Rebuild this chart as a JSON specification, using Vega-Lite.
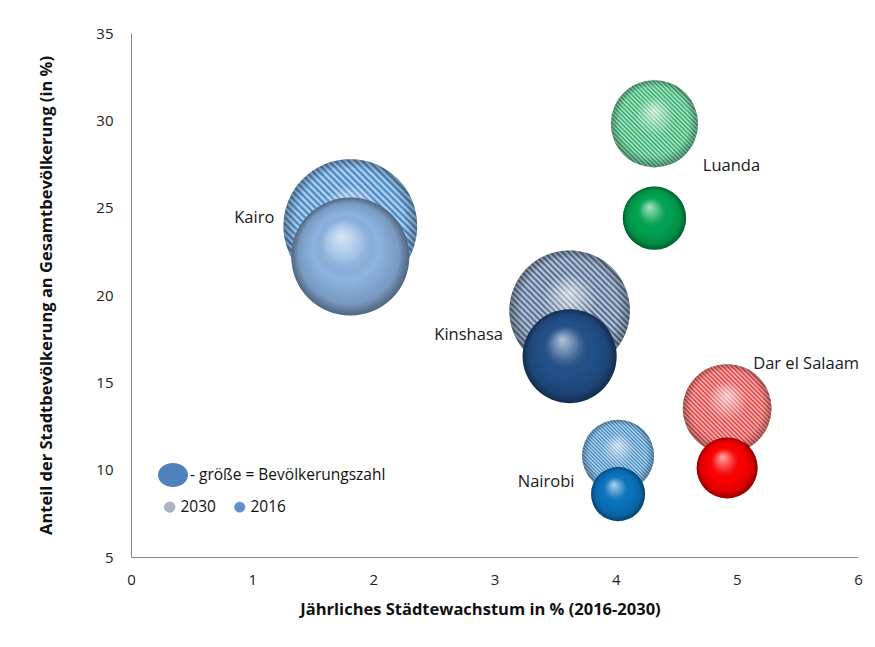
{
  "$schema": "https://vega.github.io/schema/vega-lite/v6.json",
  "width": 727,
  "height": 524,
  "autosize": {"type": "none"},
  "padding": {"left": 131, "top": 33, "right": 17, "bottom": 90},
  "background": "white",
  "config": {"view": {"stroke": null}, "font": "Open Sans"},
  "data": {
    "values": [
      {"city": "Kairo", "year": "2030", "growth": 1.81, "share": 23.95, "pop": 24.5},
      {"city": "Kinshasa", "year": "2030", "growth": 3.62, "share": 19.1, "pop": 19.9},
      {"city": "Luanda", "year": "2030", "growth": 4.32, "share": 29.8, "pop": 10.4},
      {"city": "Dar el Salaam", "year": "2030", "growth": 4.92, "share": 13.5, "pop": 10.8},
      {"city": "Nairobi", "year": "2030", "growth": 4.02, "share": 10.8, "pop": 7.1},
      {"city": "Kairo", "year": "2016", "growth": 1.81, "share": 22.2, "pop": 19.1},
      {"city": "Kinshasa", "year": "2016", "growth": 3.62, "share": 16.5, "pop": 12.1},
      {"city": "Luanda", "year": "2016", "growth": 4.32, "share": 24.4, "pop": 5.5},
      {"city": "Dar el Salaam", "year": "2016", "growth": 4.92, "share": 10.1, "pop": 5.1},
      {"city": "Nairobi", "year": "2016", "growth": 4.02, "share": 8.6, "pop": 4.0}
    ]
  },
  "encoding": {
    "x": {
      "field": "growth", "type": "quantitative",
      "scale": {"domain": [0, 6], "nice": false, "zero": false},
      "axis": {
        "title": "Jährliches Städtewachstum in % (2016-2030)",
        "values": [0, 1, 2, 3, 4, 5, 6], "grid": false, "ticks": false, "tickSize": 0, "labelFlush": false,
        "domainColor": "#868686", "labelFont": "Open Sans", "labelFontSize": 15, "labelColor": "#222222",
        "labelPadding": 15, "titleFont": "Open Sans", "titleFontSize": 16.5, "titleFontWeight": "bold",
        "titleColor": "#111111", "titlePadding": 14, "titleX": 349
      }
    },
    "y": {
      "field": "share", "type": "quantitative",
      "scale": {"domain": [5, 35], "nice": false, "zero": false},
      "axis": {
        "title": "Anteil der Stadtbevölkerung an Gesamtbevölkerung (in %)",
        "values": [5, 10, 15, 20, 25, 30, 35], "grid": false, "ticks": false, "tickSize": 0, "labelFlush": false,
        "domainColor": "#868686", "labelFont": "Open Sans", "labelFontSize": 15, "labelColor": "#222222",
        "labelPadding": 18, "titleFont": "Open Sans", "titleFontSize": 16.5, "titleFontWeight": "bold",
        "titleColor": "#111111", "titlePadding": 41
      }
    }
  },
  "layer": [
    {
      "transform": [{"filter": "datum.year == '2030'"}],
      "mark": {"type": "point", "filled": true, "opacity": 1, "strokeWidth": 0},
      "encoding": {
        "size": {"field": "pop", "type": "quantitative", "scale": {"domain": [0, 25], "range": [0, 18250]}, "legend": null},
        "color": {
          "field": "city", "type": "nominal",
          "scale": {"domain": ["Kairo", "Kinshasa", "Luanda", "Dar el Salaam", "Nairobi"], "range": ["#357fc6", "#45618a", "#22ab62", "#e63434", "#3584c4"]},
          "legend": null
        },
        "shape": {
          "field": "year", "type": "nominal",
          "scale": {"domain": ["2030", "2016"], "range": ["circle", "circle"]},
          "legend": {
            "orient": "none", "legendX": 31, "legendY": 466, "direction": "horizontal", "title": null,
            "symbolSize": 110, "labelFont": "Open Sans", "labelFontSize": 15.5, "labelColor": "#111111",
            "labelOffset": 3, "columnPadding": 16, "labelLimit": 300,
            "encoding": {"symbols": {
              "fill": {"value": {"expr": "datum.value == '2030' ? '#aab4c2' : '#5f8fd0'"}},
              "stroke": {"value": "#7f8fa0"}, "strokeWidth": {"value": 0.5}, "opacity": {"value": 1}
            }}
          }
        }
      }
    },
    {
      "transform": [{"filter": "datum.year == '2030'"}],
      "mark": {
        "type": "point", "filled": true, "opacity": 1, "strokeWidth": 0,
        "fill": {
          "gradient": "linear", "x1": 0, "y1": 1, "x2": 1, "y2": 0,
          "stops": [
            {"offset": 0, "color": "#ffffffb8"}, {"offset": 0.0125, "color": "#ffffff00"},
            {"offset": 0.025, "color": "#ffffffb8"}, {"offset": 0.0375, "color": "#ffffff00"},
            {"offset": 0.05, "color": "#ffffffb8"}, {"offset": 0.0625, "color": "#ffffff00"},
            {"offset": 0.075, "color": "#ffffffb8"}, {"offset": 0.0875, "color": "#ffffff00"},
            {"offset": 0.1, "color": "#ffffffb8"}, {"offset": 0.1125, "color": "#ffffff00"},
            {"offset": 0.125, "color": "#ffffffb8"}, {"offset": 0.1375, "color": "#ffffff00"},
            {"offset": 0.15, "color": "#ffffffb8"}, {"offset": 0.1625, "color": "#ffffff00"},
            {"offset": 0.175, "color": "#ffffffb8"}, {"offset": 0.1875, "color": "#ffffff00"},
            {"offset": 0.2, "color": "#ffffffb8"}, {"offset": 0.2125, "color": "#ffffff00"},
            {"offset": 0.225, "color": "#ffffffb8"}, {"offset": 0.2375, "color": "#ffffff00"},
            {"offset": 0.25, "color": "#ffffffb8"}, {"offset": 0.2625, "color": "#ffffff00"},
            {"offset": 0.275, "color": "#ffffffb8"}, {"offset": 0.2875, "color": "#ffffff00"},
            {"offset": 0.3, "color": "#ffffffb8"}, {"offset": 0.3125, "color": "#ffffff00"},
            {"offset": 0.325, "color": "#ffffffb8"}, {"offset": 0.3375, "color": "#ffffff00"},
            {"offset": 0.35, "color": "#ffffffb8"}, {"offset": 0.3625, "color": "#ffffff00"},
            {"offset": 0.375, "color": "#ffffffb8"}, {"offset": 0.3875, "color": "#ffffff00"},
            {"offset": 0.4, "color": "#ffffffb8"}, {"offset": 0.4125, "color": "#ffffff00"},
            {"offset": 0.425, "color": "#ffffffb8"}, {"offset": 0.4375, "color": "#ffffff00"},
            {"offset": 0.45, "color": "#ffffffb8"}, {"offset": 0.4625, "color": "#ffffff00"},
            {"offset": 0.475, "color": "#ffffffb8"}, {"offset": 0.4875, "color": "#ffffff00"},
            {"offset": 0.5, "color": "#ffffffb8"}, {"offset": 0.5125, "color": "#ffffff00"},
            {"offset": 0.525, "color": "#ffffffb8"}, {"offset": 0.5375, "color": "#ffffff00"},
            {"offset": 0.55, "color": "#ffffffb8"}, {"offset": 0.5625, "color": "#ffffff00"},
            {"offset": 0.575, "color": "#ffffffb8"}, {"offset": 0.5875, "color": "#ffffff00"},
            {"offset": 0.6, "color": "#ffffffb8"}, {"offset": 0.6125, "color": "#ffffff00"},
            {"offset": 0.625, "color": "#ffffffb8"}, {"offset": 0.6375, "color": "#ffffff00"},
            {"offset": 0.65, "color": "#ffffffb8"}, {"offset": 0.6625, "color": "#ffffff00"},
            {"offset": 0.675, "color": "#ffffffb8"}, {"offset": 0.6875, "color": "#ffffff00"},
            {"offset": 0.7, "color": "#ffffffb8"}, {"offset": 0.7125, "color": "#ffffff00"},
            {"offset": 0.725, "color": "#ffffffb8"}, {"offset": 0.7375, "color": "#ffffff00"},
            {"offset": 0.75, "color": "#ffffffb8"}, {"offset": 0.7625, "color": "#ffffff00"},
            {"offset": 0.775, "color": "#ffffffb8"}, {"offset": 0.7875, "color": "#ffffff00"},
            {"offset": 0.8, "color": "#ffffffb8"}, {"offset": 0.8125, "color": "#ffffff00"},
            {"offset": 0.825, "color": "#ffffffb8"}, {"offset": 0.8375, "color": "#ffffff00"},
            {"offset": 0.85, "color": "#ffffffb8"}, {"offset": 0.8625, "color": "#ffffff00"},
            {"offset": 0.875, "color": "#ffffffb8"}, {"offset": 0.8875, "color": "#ffffff00"},
            {"offset": 0.9, "color": "#ffffffb8"}, {"offset": 0.9125, "color": "#ffffff00"},
            {"offset": 0.925, "color": "#ffffffb8"}, {"offset": 0.9375, "color": "#ffffff00"},
            {"offset": 0.95, "color": "#ffffffb8"}, {"offset": 0.9625, "color": "#ffffff00"},
            {"offset": 0.975, "color": "#ffffffb8"}, {"offset": 0.9875, "color": "#ffffff00"},
            {"offset": 1, "color": "#ffffffb8"}
          ]
        }
      },
      "encoding": {
        "size": {"field": "pop", "type": "quantitative", "scale": {"domain": [0, 25], "range": [0, 18250]}, "legend": null},
        "strokeDash": {
          "datum": "- größe = Bevölkerungszahl", "type": "nominal",
          "scale": {"range": [[1, 0]]},
          "legend": {
            "orient": "none", "legendX": 27, "legendY": 427, "title": null,
            "symbolType": "M-1,0A1,0.8,0,1,1,1,0A1,0.8,0,1,1,-1,0Z", "symbolSize": 900,
            "symbolFillColor": "#4f81bd", "symbolStrokeWidth": 0, "symbolOpacity": 1,
            "labelFont": "Open Sans", "labelFontSize": 15.5, "labelColor": "#111111", "labelOffset": 2, "labelLimit": 400,
            "encoding": {"symbols": {
              "fill": {"value": "#4f81bd"}, "stroke": {"value": "#4f81bd"}, "strokeWidth": {"value": 0},
              "opacity": {"value": 1}, "fillOpacity": {"value": 1}
            }}
          }
        }
      }
    },
    {
      "transform": [{"filter": "datum.year == '2030'"}],
      "mark": {
        "type": "point", "filled": true, "opacity": 1, "strokeWidth": 0,
        "fill": {
          "gradient": "radial", "x1": 0.5, "y1": 0.35, "r1": 0, "x2": 0.5, "y2": 0.5, "r2": 0.5,
          "stops": [
            {"offset": 0, "color": "#ffffffa0"},
            {"offset": 0.45, "color": "#ffffff00"},
            {"offset": 0.8, "color": "#00000000"},
            {"offset": 1, "color": "#00000050"}
          ]
        }
      },
      "encoding": {
        "size": {"field": "pop", "type": "quantitative", "scale": {"domain": [0, 25], "range": [0, 18250]}, "legend": null}
      }
    },
    {
      "transform": [{"filter": "datum.year == '2016'"}],
      "mark": {"type": "point", "filled": true, "opacity": 1, "strokeWidth": 0},
      "encoding": {
        "size": {"field": "pop", "type": "quantitative", "scale": {"domain": [0, 25], "range": [0, 18250]}, "legend": null},
        "color": {
          "field": "city", "type": "nominal",
          "scale": {"domain": ["Kairo", "Kinshasa", "Luanda", "Dar el Salaam", "Nairobi"], "range": ["#8db4e2", "#22508a", "#00a550", "#ff0000", "#0a74c0"]},
          "legend": null
        },
        "shape": {"field": "year", "type": "nominal", "scale": {"domain": ["2030", "2016"], "range": ["circle", "circle"]}}
      }
    },
    {
      "transform": [{"filter": "datum.year == '2016'"}],
      "mark": {
        "type": "point", "filled": true, "opacity": 1, "strokeWidth": 0,
        "fill": {
          "gradient": "radial", "x1": 0.42, "y1": 0.32, "r1": 0, "x2": 0.5, "y2": 0.5, "r2": 0.5,
          "stops": [
            {"offset": 0, "color": "#ffffffaa"},
            {"offset": 0.3, "color": "#ffffff30"},
            {"offset": 0.55, "color": "#00000000"},
            {"offset": 0.85, "color": "#00000025"},
            {"offset": 1, "color": "#00000070"}
          ]
        }
      },
      "encoding": {
        "size": {"field": "pop", "type": "quantitative", "scale": {"domain": [0, 25], "range": [0, 18250]}, "legend": null}
      }
    },
    {
      "transform": [{"filter": "datum.year == '2030' && datum.city == 'Kairo'"}],
      "mark": {"type": "text", "font": "Open Sans", "fontSize": 16.5, "color": "#1a1a1a", "align": "center", "baseline": "middle", "dx": -96, "dy": -8},
      "encoding": {"text": {"field": "city"}}
    },
    {
      "transform": [{"filter": "datum.year == '2030' && datum.city == 'Luanda'"}],
      "mark": {"type": "text", "font": "Open Sans", "fontSize": 16.5, "color": "#1a1a1a", "align": "center", "baseline": "middle", "dx": 77, "dy": 42},
      "encoding": {"text": {"field": "city"}}
    },
    {
      "transform": [{"filter": "datum.year == '2030' && datum.city == 'Kinshasa'"}],
      "mark": {"type": "text", "font": "Open Sans", "fontSize": 16.5, "color": "#1a1a1a", "align": "center", "baseline": "middle", "dx": -101, "dy": 24},
      "encoding": {"text": {"field": "city"}}
    },
    {
      "transform": [{"filter": "datum.year == '2030' && datum.city == 'Dar el Salaam'"}],
      "mark": {"type": "text", "font": "Open Sans", "fontSize": 16.5, "color": "#1a1a1a", "align": "center", "baseline": "middle", "dx": 79, "dy": -45},
      "encoding": {"text": {"field": "city"}}
    },
    {
      "transform": [{"filter": "datum.year == '2030' && datum.city == 'Nairobi'"}],
      "mark": {"type": "text", "font": "Open Sans", "fontSize": 16.5, "color": "#1a1a1a", "align": "center", "baseline": "middle", "dx": -72, "dy": 26},
      "encoding": {"text": {"field": "city"}}
    }
  ],
  "resolve": {"scale": {"color": "independent"}}
}
